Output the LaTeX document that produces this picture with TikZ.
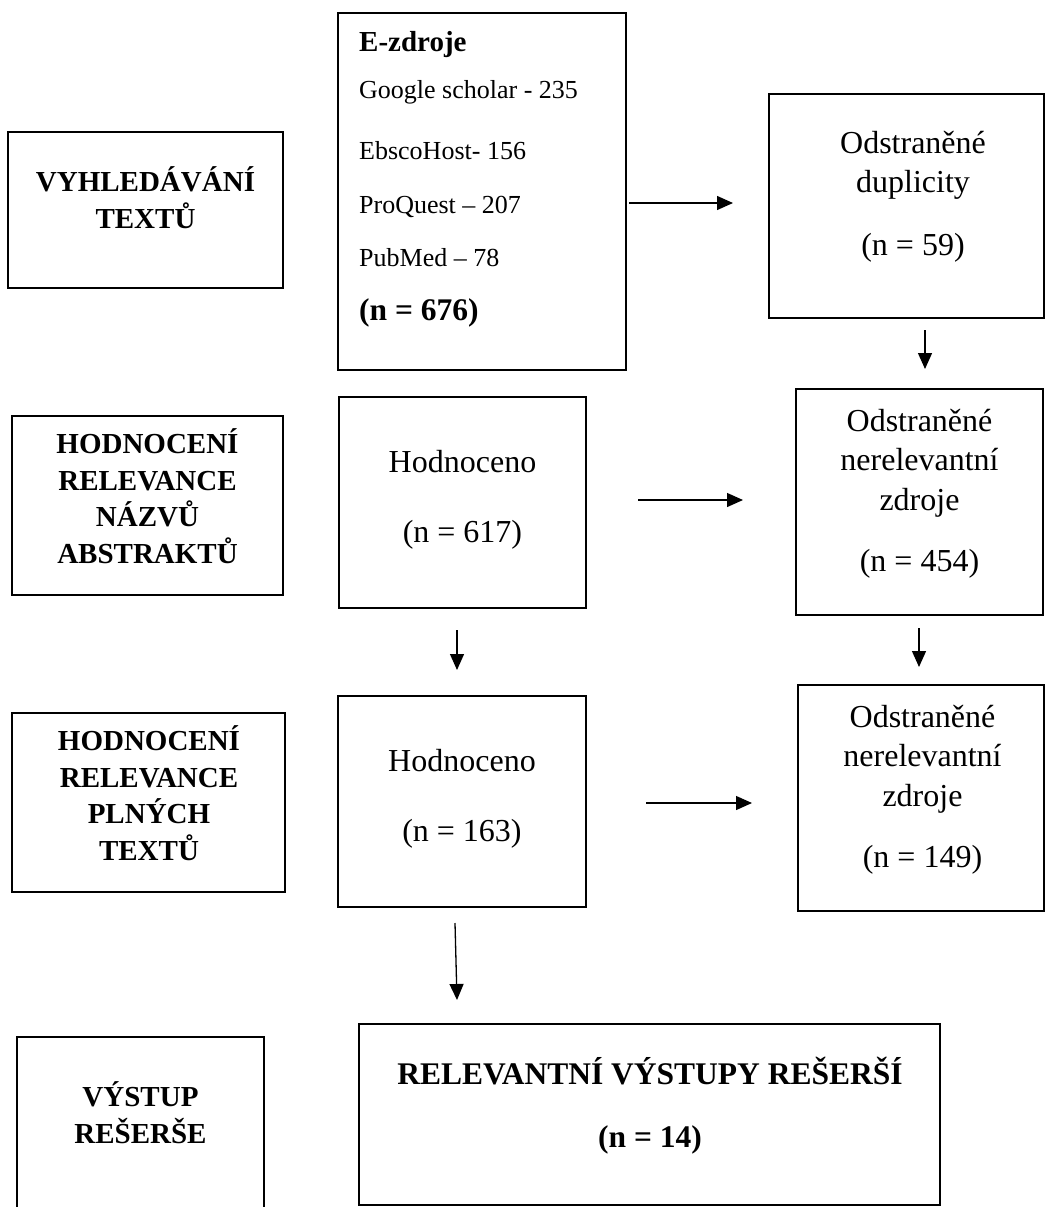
\documentclass[tikz,border=0pt]{standalone}
\usepackage{fontspec}
\setmainfont{Liberation Serif}
\usetikzlibrary{arrows.meta}
\begin{document}
\begin{tikzpicture}[x=1pt,y=-1pt,
  box/.style={draw, line width=1.8pt, inner sep=0pt},
  arr/.style={line width=1.3pt, -{Triangle[length=16pt,width=14pt]}},
  bl/.style={font=\bfseries\fontsize{29}{36.5}\selectfont, align=center, inner sep=0pt, anchor=base},
  rg/.style={font=\fontsize{32}{39.5}\selectfont, align=center, inner sep=0pt, anchor=base},
  ez/.style={font=\fontsize{26}{30}\selectfont, inner sep=0pt, anchor=base west},
]
\useasboundingbox (0,0) rectangle (1045,1207);

% boxes
\node[box, minimum width=275, minimum height=156] (b1) at (145.5,210) {};
\node[box, minimum width=288, minimum height=357] (b2) at (482,191.5) {};
\node[box, minimum width=275, minimum height=224] (b3) at (906.5,206) {};
\node[box, minimum width=271, minimum height=179] (b4) at (147.5,505.5) {};
\node[box, minimum width=247, minimum height=211] (b5) at (462.5,502.5) {};
\node[box, minimum width=247, minimum height=226] (b6) at (919.5,502) {};
\node[box, minimum width=273, minimum height=179] (b7) at (148.5,802.5) {};
\node[box, minimum width=248, minimum height=211] (b8) at (462,801.5) {};
\node[box, minimum width=246, minimum height=226] (b9) at (921,798) {};
\node[box, minimum width=247, minimum height=203] (b10) at (140.5,1138.5) {};
\node[box, minimum width=581, minimum height=181] (b11) at (649.5,1114.5) {};

% left labels (anchor = baseline of last line)
\node[bl] (t1) at (145.5,228) {VYHLEDÁVÁNÍ\\TEXTŮ};
\node[bl] (t4) at (147.5,563) {HODNOCENÍ\\RELEVANCE\\NÁZVŮ\\ABSTRAKTŮ};
\node[bl] (t7) at (149,860) {HODNOCENÍ\\RELEVANCE\\PLNÝCH\\TEXTŮ};
\node[bl] (t10) at (140.5,1143) {VÝSTUP\\REŠERŠE};

% E-zdroje box
\node[ez, font=\bfseries\fontsize{29}{34}\selectfont] (e1) at (359,52) {E-zdroje};
\node[ez] (e2) at (359,99) {Google scholar - 235};
\node[ez] (e3) at (359,159) {EbscoHost- 156};
\node[ez] (e4) at (359,213) {ProQuest – 207};
\node[ez] (e5) at (359,266) {PubMed – 78};
\node[ez, font=\bfseries\fontsize{31.5}{36}\selectfont] (e6) at (359,320) {(n = 676)};

% right / middle texts
\node[rg] (t3) at (913,255) {Odstraněné\\duplicity\\[23pt](n = 59)};
\node[rg] (t5) at (462.5,542) {Hodnoceno\\[30.5pt](n = 617)};
\node[rg] (t6) at (919.5,571) {Odstraněné\\nerelevantní\\zdroje\\[21.5pt](n = 454)};
\node[rg] (t8) at (462,841) {Hodnoceno\\[30.5pt](n = 163)};
\node[rg] (t9) at (922.5,867) {Odstraněné\\nerelevantní\\zdroje\\[21.5pt](n = 149)};
\node[bl, font=\bfseries\fontsize{31.5}{38}\selectfont] (t11) at (650,1147) {RELEVANTNÍ VÝSTUPY REŠERŠÍ\\[25pt](n = 14)};

% connector ends
\coordinate (a1s) at (629,203);  \coordinate (a1e) at (733,203);
\coordinate (a2s) at (925,330);  \coordinate (a2e) at (925,369);
\coordinate (a3s) at (638,500);  \coordinate (a3e) at (743,500);
\coordinate (a4s) at (457,630);  \coordinate (a4e) at (457,670);
\coordinate (a5s) at (919,628);  \coordinate (a5e) at (919,667);
\coordinate (a6s) at (646,803);  \coordinate (a6e) at (752,803);
\coordinate (a7s) at (455,923);  \coordinate (a7e) at (457,1000);

\draw[arr] (a1s) -- (a1e);
\draw[arr] (a2s) -- (a2e);
\draw[arr] (a3s) -- (a3e);
\draw[arr] (a4s) -- (a4e);
\draw[arr] (a5s) -- (a5e);
\draw[arr] (a6s) -- (a6e);
\draw[arr] (a7s) -- (a7e);
\end{tikzpicture}
\end{document}
